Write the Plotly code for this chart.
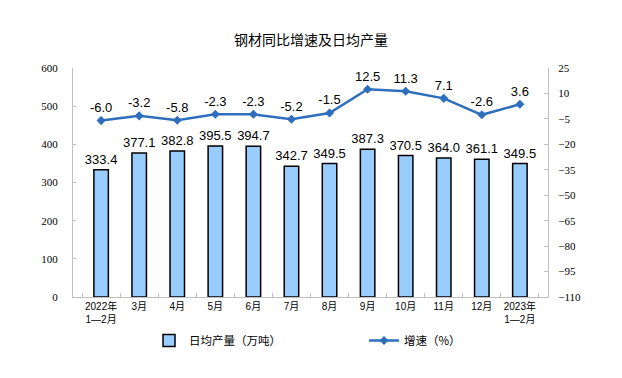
import plotly.graph_objects as go

categories = ["2022年<br>1—2月", "3月", "4月", "5月", "6月", "7月", "8月", "9月",
              "10月", "11月", "12月", "2023年<br>1—2月"]
output_daily = [333.4, 377.1, 382.8, 395.5, 394.7, 342.7, 349.5, 387.3, 370.5, 364.0, 361.1, 349.5]
growth = [-6.0, -3.2, -5.8, -2.3, -2.3, -5.2, -1.5, 12.5, 11.3, 7.1, -2.6, 3.6]

fig = go.Figure()
fig.add_trace(go.Bar(
    x=categories, y=output_daily, name="日均产量（万吨）",
    marker=dict(color="#99CCFF", line=dict(color="#000000", width=1.5)),
    width=0.38,
    text=[f"{v:.1f}" for v in output_daily], textposition="outside",
    constraintext="none",
    textfont=dict(family="Liberation Sans, Arial", size=13, color="#000000"),
    cliponaxis=False,
))
fig.add_trace(go.Scatter(
    x=categories, y=growth, name="增速（%）", yaxis="y2",
    mode="lines+markers+text",
    line=dict(color="#2E6EBD", width=2.5),
    marker=dict(symbol="diamond", size=7, color="#2E6EBD"),
    text=[f"{v:.1f}" for v in growth], textposition="top center",
    textfont=dict(family="Liberation Sans, Arial", size=13, color="#000000"),
    cliponaxis=False,
))

fig.update_layout(
    width=622, height=378,
    margin=dict(l=73, r=74, t=68, b=81, autoexpand=False),
    paper_bgcolor="white", plot_bgcolor="white",
    title=dict(text="钢材同比增速及日均产量", x=0.5, xanchor="center", y=0.895, yanchor="middle",
               font=dict(family="Noto Sans CJK SC", size=14, color="#000000")),
    showlegend=True,
    legend=dict(orientation="h", x=0.16, xanchor="left", y=-0.19, yanchor="middle",
                font=dict(family="Noto Sans CJK SC", size=11.5, color="#000000"),
                entrywidth=170, entrywidthmode="pixels", traceorder="normal"),
    bargap=0.6,
    xaxis=dict(
        type="category", showline=True, linecolor="#BFBFBF", linewidth=1,
        ticks="inside", ticklen=4, tickcolor="#BFBFBF", tickson="boundaries",
        tickangle=0, automargin=False,
        tickfont=dict(family="Liberation Sans, Noto Sans CJK SC", size=10, color="#000000"),
        showgrid=False,
    ),
    yaxis=dict(
        range=[0, 600], dtick=100, showgrid=False, zeroline=False,
        showline=True, linecolor="#BFBFBF", linewidth=1,
        ticks="inside", ticklen=3, tickcolor="#BFBFBF", automargin=False,
        ticklabelstandoff=12,
        tickfont=dict(family="Liberation Serif, Times New Roman", size=11, color="#000000"),
    ),
    yaxis2=dict(
        range=[-110, 25], dtick=15, tick0=-110, overlaying="y", side="right",
        showgrid=False, zeroline=False,
        showline=True, linecolor="#BFBFBF", linewidth=1,
        ticks="inside", ticklen=4, tickcolor="#BFBFBF", automargin=False,
        ticklabelstandoff=7,
        tickfont=dict(family="Liberation Serif, Times New Roman", size=11, color="#000000"),
    ),
)

fig.write_html("out.html", config={"displayModeBar": False},
               post_script="document.body.style.margin='0';document.body.style.overflow='hidden';")
